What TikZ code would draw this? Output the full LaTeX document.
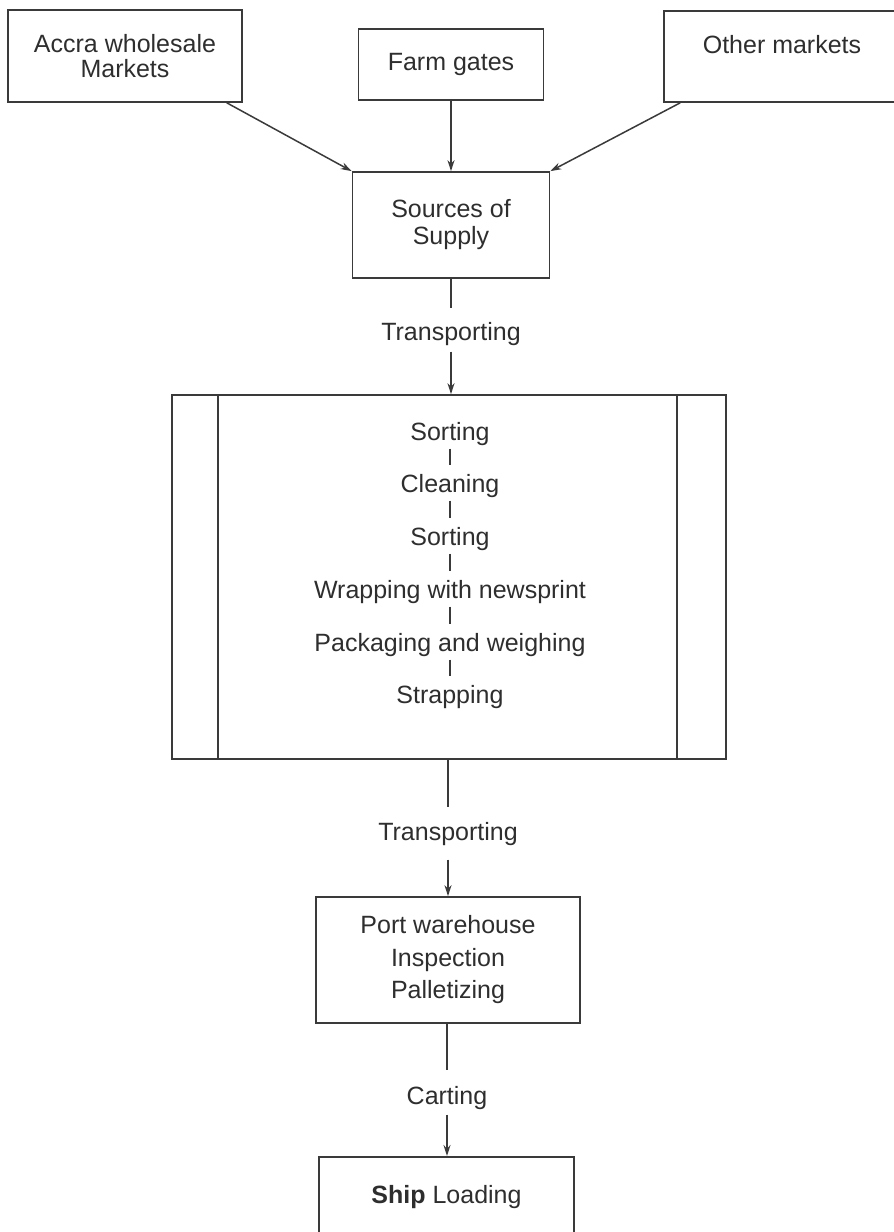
\documentclass[tikz,border=0pt]{standalone}
\usepackage{fontspec}
\setmainfont{Liberation Sans}
\usetikzlibrary{arrows.meta,calc}
\definecolor{linec}{HTML}{3A3A3A}
\definecolor{textc}{HTML}{2E2E2E}
\begin{document}
\begin{tikzpicture}[x=1pt,y=-1pt,
  every node/.style={font=\fontsize{25}{25}\selectfont, text=textc},
  box/.style={draw=linec, line width=1.7pt, inner sep=0pt, align=center},
  item/.style={inner sep=0pt, text height=18pt, text depth=5pt},
  conn/.style={draw=linec, line width=1.5pt},
  arr/.style={conn, -{Stealth[length=11pt,width=7pt]}}
]
\useasboundingbox (0,0) rectangle (894,1232);

% top sources
\node[box, minimum width=234pt, minimum height=92pt] (acc) at (125,56) {Accra wholesale\\Markets};
\node[box, minimum width=185pt, minimum height=71pt] (farm) at (451,64.5) {Farm gates};
\node[box, minimum width=234pt, minimum height=91pt] (oth) at (781,56.5) {};
\node[item] (othtxt) at (782,47) {Other markets};

\node[box, minimum width=197pt, minimum height=106pt] (src) at (451,225) {Sources of\\[2pt]Supply};

\draw[arr] ($(acc.south east)+(-16,0)$) -- (src.north west);
\draw[arr] (farm.south) -- (src.north);
\draw[arr] ($(oth.south west)+(17,0)$) -- (src.north east);

% transporting 1
\node[item] (t1) at (451,334) {Transporting};
\draw[conn, shorten >=14pt] (src.south) -- (t1.north);

% processing box
\node[box, minimum width=554pt, minimum height=364pt] (proc) at (449,577) {};
\draw[conn] ($(proc.north west)+(47,0)$) -- ($(proc.south west)+(47,0)$);
\draw[conn] ($(proc.north east)+(-50,0)$) -- ($(proc.south east)+(-50,0)$);
\draw[arr, shorten <=6pt] (t1.south) -- (t1.south |- proc.north);

\node[item] (s1) at (450,434) {Sorting};
\node[item] (cl) at (450,486) {Cleaning};
\node[item] (s2) at (450,539) {Sorting};
\node[item] (wr) at (450,592) {Wrapping with newsprint};
\node[item] (pk) at (450,645) {Packaging and weighing};
\node[item] (st) at (450,697) {Strapping};
\foreach \a/\b in {s1/cl, cl/s2, s2/wr, wr/pk, pk/st}
  \draw[conn, line width=1.2pt, shorten <=3pt, shorten >=9pt] (\a.south) -- (\b.north);

% transporting 2
\node[item] (t2) at (448,834) {Transporting};
\draw[conn, shorten >=15pt] (proc.south -| t2.north) -- (t2.north);

\node[box, minimum width=264pt, minimum height=126pt] (port) at (448,960) {Port warehouse\\[7.5pt]Inspection\\[7.5pt]Palletizing};
\draw[arr, shorten <=14pt] (t2.south) -- (port.north);

% carting
\node[item] (ct) at (447,1098) {Carting};
\draw[conn, shorten >=16pt] (port.south -| ct.north) -- (ct.north);

\node[box, minimum width=255pt, minimum height=80pt, anchor=north] (ship) at (446.5,1156) {\textbf{Ship} Loading};
\draw[arr, shorten <=5pt] (ct.south) -- (ct.south |- ship.north);
\end{tikzpicture}
\end{document}
